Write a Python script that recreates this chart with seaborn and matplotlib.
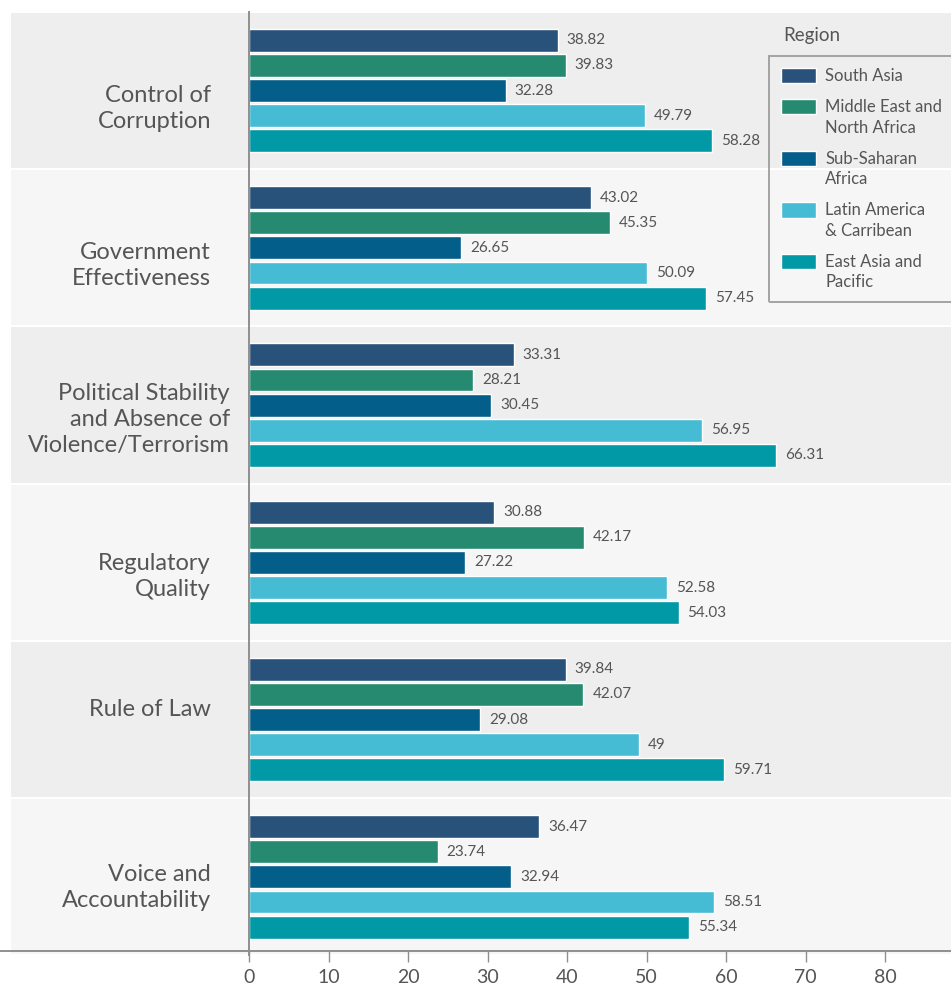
import matplotlib
matplotlib.use("Agg")
import matplotlib.pyplot as plt
import matplotlib.transforms as mtransforms
import seaborn as sns
import pandas as pd

# ---- data -------------------------------------------------------------
indicators = [
    "Control of\nCorruption",
    "Government\nEffectiveness",
    "Political Stability\nand Absence of\nViolence/Terrorism",
    "Regulatory\nQuality",
    "Rule of Law",
    "Voice and\nAccountability",
]
regions = [
    "South Asia",
    "Middle East and North Africa",
    "Sub-Saharan Africa",
    "Latin America & Carribean",
    "East Asia and Pacific",
]
legend_labels = [
    "South Asia",
    "Middle East and\nNorth Africa",
    "Sub-Saharan\nAfrica",
    "Latin America\n& Carribean",
    "East Asia and\nPacific",
]
south_asia = [38.82, 43.02, 33.31, 30.88, 39.84, 36.47]
mena = [39.83, 45.35, 28.21, 42.17, 42.07, 23.74]
sub_saharan = [32.28, 26.65, 30.45, 27.22, 29.08, 32.94]
latin_america = [49.79, 50.09, 56.95, 52.58, 49.00, 58.51]
east_asia = [58.28, 57.45, 66.31, 54.03, 59.71, 55.34]
x_ticks = [0, 10, 20, 30, 40, 50, 60, 70, 80]

palette = ["#29527a", "#258a70", "#035e8a", "#46bbd4", "#0299a6"]
band_colors = ["#eeeeee", "#f6f6f6"]
text_color = "#555555"
axis_color = "#8f8f8f"

series = [south_asia, mena, sub_saharan, latin_america, east_asia]
df = pd.DataFrame(
    [(ind, reg, vals[i])
     for reg, vals in zip(regions, series)
     for i, ind in enumerate(indicators)],
    columns=["indicator", "region", "score"],
)

# ---- figure -----------------------------------------------------------
sns.set_theme(style="white")
plt.rcParams["font.family"] = ["Lato", "DejaVu Sans"]

W, H = 951, 988
fig = plt.figure(figsize=(W / 100, H / 100), dpi=100, facecolor="white")
ax_left, ax_right, ax_top, ax_bottom = 249, 951, 12, 955.5
ax = fig.add_axes([ax_left / W, 1 - ax_bottom / H,
                   (ax_right - ax_left) / W, (ax_bottom - ax_top) / H])
ax.set_facecolor("white")

sns.barplot(
    data=df, y="indicator", x="score", hue="region",
    order=indicators, hue_order=regions, palette=palette,
    orient="h", errorbar=None, width=0.8, gap=0.09,
    saturation=1, ax=ax, zorder=2,
)

ax.set_xlim(0, (ax_right - ax_left) / 7.95)
ax.set_ylim(len(indicators) - 0.5, -0.5)

# alternating row bands that reach under the category labels
band_left = -(ax_left - 11) / (ax_right - ax_left)
half_gap = 1.0 / 157.25
for i in range(len(indicators)):
    ax.axhspan(i - 0.5 + half_gap, i + 0.5 - half_gap,
               xmin=band_left, xmax=1.0,
               color=band_colors[i % 2], zorder=0, clip_on=False, lw=0)

# value labels
for cont in ax.containers:
    ax.bar_label(cont, labels=[f"{v:g}" for v in cont.datavalues],
                 padding=6.5, fontsize=11, color=text_color)

# axes styling
for side in ["top", "right"]:
    ax.spines[side].set_visible(False)
spine_y = 4.5 / (ax_bottom - ax_top)
ax.spines["bottom"].set_position(("axes", spine_y))
for side in ["left", "bottom"]:
    ax.spines[side].set_color(axis_color)
    ax.spines[side].set_linewidth(1.4)
    ax.spines[side].set_zorder(3)
# the baseline runs on to the left edge of the figure
ax.plot([-(ax_left) / (ax_right - ax_left), 0], [spine_y, spine_y],
        transform=ax.transAxes, color=axis_color, lw=1.4,
        clip_on=False, zorder=3, solid_capstyle="butt")

ax.set_xticks(x_ticks)
ax.set_xticklabels([str(t) for t in x_ticks])
ax.tick_params(axis="x", direction="out", length=8, width=1,
               color=axis_color, labelsize=14, labelcolor=text_color, pad=5,
               bottom=True)
ax.tick_params(axis="y", length=0, labelsize=17, labelcolor=text_color,
               pad=27.4, left=True)
ax.set_xlabel("")
ax.set_ylabel("")

# per-row nudges of the category labels (pixels: dx, dy down)
nudges = [(0, 18), (0, 18), (19, 14), (0, 14), (0, -10), (0, 11)]
for lbl, (dx, dy) in zip(ax.get_yticklabels(), nudges):
    lbl.set_va("center")
    lbl.set_ha("right")
    lbl.set_multialignment("right")
    lbl.set_linespacing(1.3)
    lbl.set_transform(lbl.get_transform() + mtransforms.ScaledTranslation(
        dx / 100, -dy / 100, fig.dpi_scale_trans))

# legend
handles, _ = ax.get_legend_handles_labels()
if ax.get_legend() is not None:
    ax.get_legend().remove()
leg = fig.legend(
    handles, legend_labels, loc="upper left",
    bbox_to_anchor=(769 / W, 1 - 56 / H), bbox_transform=fig.transFigure,
    frameon=True, fancybox=False, fontsize=12, labelcolor=text_color,
    handlelength=2.1, handleheight=1.05, handletextpad=0.55,
    labelspacing=0.9, borderpad=0.72, borderaxespad=0,
)
leg.get_frame().set_facecolor("none")
leg.get_frame().set_edgecolor(axis_color)
leg.get_frame().set_linewidth(1.4)
for txt in leg.get_texts():
    txt.set_linespacing(1.35)
# keep each swatch level with the first line of its label
for column in leg._legend_handle_box.get_children():
    for row in column.get_children():
        row.align = "top"
fig.text(783 / W, 1 - 35 / H, "Region", fontsize=13.5, color=text_color,
         ha="left", va="center")

fig.savefig("out.png", dpi=100, facecolor="white")
